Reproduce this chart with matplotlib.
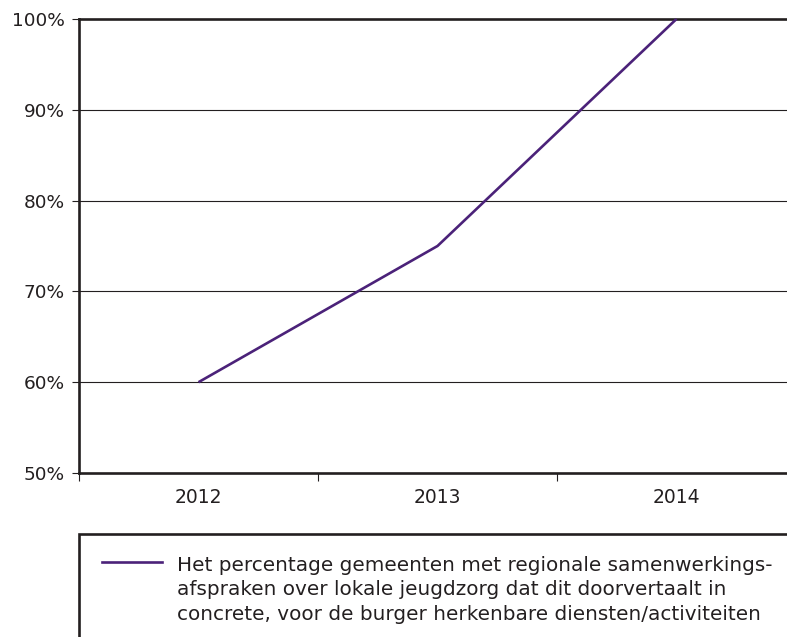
import matplotlib.pyplot as plt
from matplotlib.lines import Line2D
from matplotlib.patches import Rectangle
from matplotlib.ticker import FixedLocator, NullFormatter

plt.rcParams['font.family'] = ['DejaVu Sans']

years = ['2012', '2013', '2014']
values = [60, 75, 100]
yticks = [50, 60, 70, 80, 90, 100]
legend_label = ("Het percentage gemeenten met regionale samenwerkings-\n"
                "afspraken over lokale jeugdzorg dat dit doorvertaalt in\n"
                "concrete, voor de burger herkenbare diensten/activiteiten")

purple = '#4b2279'
ink = '#231f20'

fig = plt.figure(figsize=(7.87, 6.37), dpi=100)
ax = fig.add_axes([79 / 787, 164 / 637, 717 / 787, 454 / 637])

x = list(range(len(years)))
ax.plot(x, values, color=purple, lw=1.9, solid_capstyle='butt', clip_on=False, zorder=3)

ax.set_xlim(-0.5, len(years) - 0.5)
ax.set_ylim(50, 100)

# y axis
ax.set_yticks(yticks)
ax.set_yticklabels([f'{v}%' for v in yticks], fontsize=13.3, color=ink)
ax.tick_params(axis='y', length=5, width=0.8, pad=5.5, color=ink)
for v in yticks[1:-1]:
    ax.axhline(v, color=ink, lw=0.8, zorder=1)

# x axis: boundary ticks, labels centred in bands
ax.xaxis.set_major_locator(FixedLocator([i - 0.5 for i in range(len(years) + 1)]))
ax.xaxis.set_major_formatter(NullFormatter())
ax.xaxis.set_minor_locator(FixedLocator(x))
ax.set_xticklabels(years, minor=True, fontsize=13.5, color=ink)
ax.tick_params(axis='x', which='major', length=6, width=0.8, color=ink)
ax.tick_params(axis='x', which='minor', length=0, pad=11)

for side in ['left', 'bottom', 'top']:
    ax.spines[side].set_linewidth(1.9)
    ax.spines[side].set_color(ink)
ax.spines['right'].set_visible(False)

# legend box
fig.patches.append(Rectangle((79 / 787, -0.1), 1.0, 0.1 + (637 - 534) / 637,
                             transform=fig.transFigure, fill=False,
                             edgecolor=ink, lw=1.9, clip_on=False))
fig.add_artist(Line2D([102 / 787, 162 / 787], [1 - 562 / 637, 1 - 562 / 637],
                      transform=fig.transFigure, color=purple, lw=1.9))
fig.text(177 / 787, 1 - 556 / 637, legend_label, fontsize=14.4, color=ink,
         va='top', ha='left', linespacing=1.36)

fig.savefig('out.png', dpi=100)
